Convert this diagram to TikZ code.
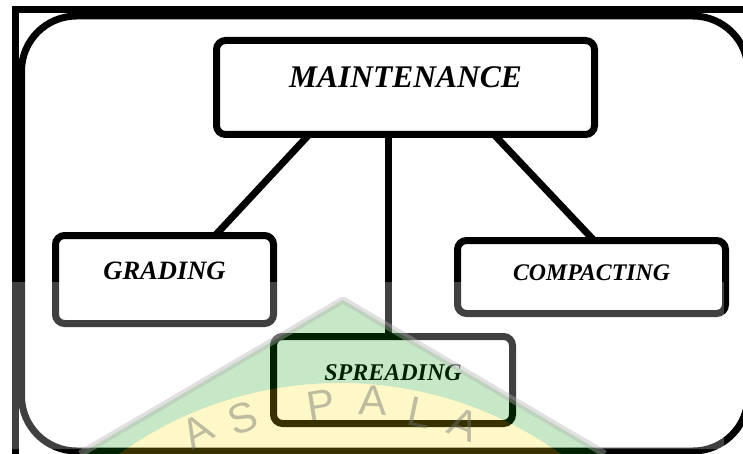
\documentclass[tikz,border=0pt]{standalone}
\usepackage{fontspec}
\setmainfont{Liberation Serif}
\setsansfont{Liberation Sans}

\tikzset{
	stage/.style={draw,line width=7pt,rounded corners=9pt,outer sep=0pt,inner sep=0pt,
		text height=0pt,text depth=0pt,font=\bfseries\itshape},
	link/.style={line width=7pt},
	stamp/.style={text=black!55,opacity=0.45,inner sep=0pt,text height=0.72em,text depth=0pt,font=\sffamily\fontsize{42}{42}\selectfont}
}

\begin{document}
\begin{tikzpicture}[x=1pt,y=-1pt]
	\useasboundingbox (0,0) rectangle (743,454);
	\fill[white] (0,0) rectangle (743,454);
	% frame and rounded panel
	\draw[line width=7pt] (760,9.5) -- (15.5,9.5) -- (15.5,470);
	\draw[line width=7pt,rounded corners=55pt] (21.5,16) rectangle (748,451);
	% the four steps
	\node[stage,minimum width=378pt,minimum height=94pt,font=\bfseries\itshape\fontsize{31.5}{34}\selectfont] (main) at (405.5,87.5) {MAINTENANCE};
	\node[stage,minimum width=218pt,minimum height=88pt,font=\bfseries\itshape\fontsize{26.5}{30}\selectfont] (grading) at (164.5,279.5) {GRADING};
	\node[stage,minimum width=268pt,minimum height=73pt,text height=6pt,font=\bfseries\itshape\fontsize{23.8}{28}\selectfont] (compacting) at (591.5,277) {COMPACTING};
	\node[stage,minimum width=239pt,minimum height=87pt,font=\bfseries\itshape\fontsize{24}{28}\selectfont] (spread) at (393,380) {SPREADING};
	\draw[link] (main.206) -- (grading.41);
	\draw[link] (main.250) -- (main.250 |- spread.north);
	\draw[link] (main.332) -- (compacting.86);
	% faded seal over the lower half
	\fill[white,opacity=0.25,even odd rule] (0,282) rectangle (724,449) (343,300) -- (88.5,449) -- (596.5,449) -- cycle;
	\begin{scope}
		\clip (343,300) -- (80,454) -- (605,454) -- cycle;
		\fill[green!60!black,opacity=0.22,even odd rule] (343,300) -- (80,454) -- (605,454) -- cycle (340,762) circle (379);
		\fill[yellow!80!orange,opacity=0.22] (340,762) circle (379);
	\end{scope}
	\draw[black!30,opacity=0.4,line width=7pt,line join=round] (80,454) -- (343,300) -- (605,454);
	\node[stamp,rotate=30] (s0) at (203,440) {A};
	\node[stamp,rotate=20] (s1) at (246,428) {S};
	\node[stamp,rotate=9] (s2) at (323,416) {P};
	\node[stamp,rotate=-2] (s3) at (373,411) {A};
	\node[stamp,rotate=-12] (s4) at (418,423) {L};
	\node[stamp,rotate=-22] (s5) at (460,434) {A};
\end{tikzpicture}
\end{document}
